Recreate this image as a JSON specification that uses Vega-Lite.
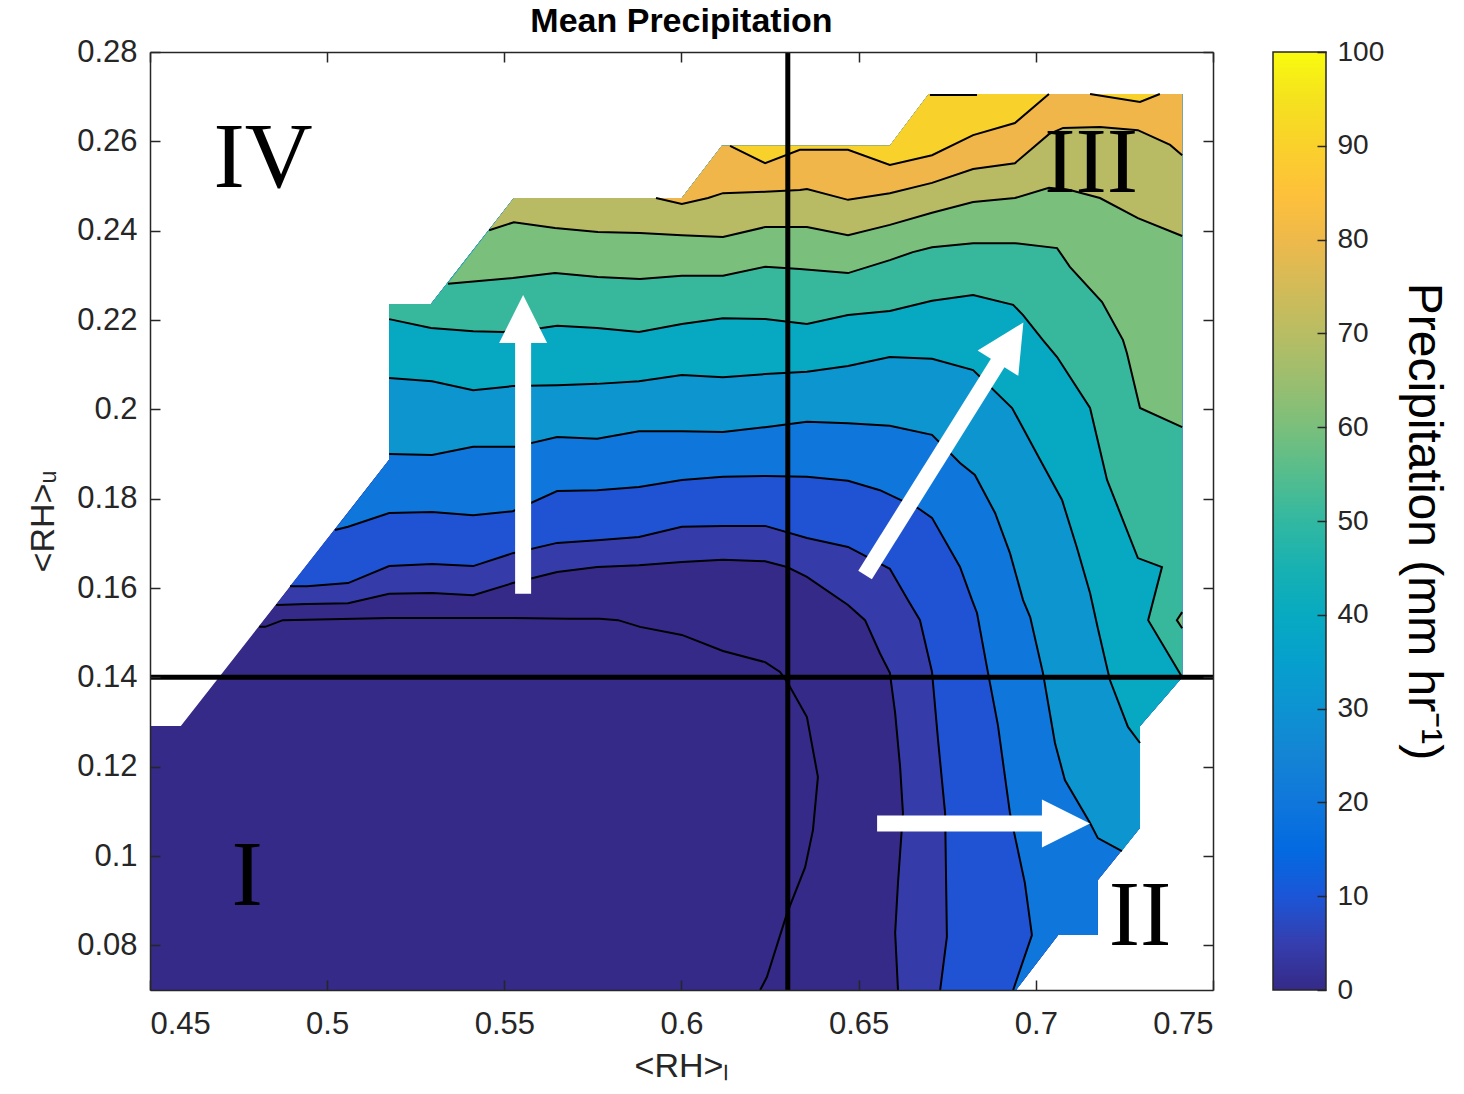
{
"$schema": "https://vega.github.io/schema/vega-lite/v6.json",
"padding": {"left": 26, "top": 5, "right": 2, "bottom": 0},
"background": "#ffffff",
"config": {"font": "Liberation Sans", "view": {"stroke": null}},
"spacing": 56,
"datasets": {
"poly": [
{"p":"P00","v":0,"i":0,"e":"b","x":0.45,"y":0.07},
{"p":"P00","v":0,"i":1,"e":"b","x":0.6944,"y":0.07},
{"p":"P00","v":0,"i":2,"e":"b","x":0.7063,"y":0.0823},
{"p":"P00","v":0,"i":3,"e":"b","x":0.7175,"y":0.0823},
{"p":"P00","v":0,"i":4,"e":"b","x":0.7175,"y":0.0946},
{"p":"P00","v":0,"i":5,"e":"b","x":0.7294,"y":0.1063},
{"p":"P00","v":0,"i":6,"e":"b","x":0.7294,"y":0.1291},
{"p":"P00","v":0,"i":7,"e":"b","x":0.7413,"y":0.14},
{"p":"P00","v":0,"i":8,"e":"b","x":0.7413,"y":0.2706},
{"p":"P00","v":0,"i":9,"e":"b","x":0.6698,"y":0.2706},
{"p":"P00","v":0,"i":10,"e":"b","x":0.6588,"y":0.259},
{"p":"P00","v":0,"i":11,"e":"b","x":0.6114,"y":0.259},
{"p":"P00","v":0,"i":12,"e":"b","x":0.6001,"y":0.2473},
{"p":"P00","v":0,"i":13,"e":"b","x":0.5527,"y":0.2473},
{"p":"P00","v":0,"i":14,"e":"b","x":0.5293,"y":0.2236},
{"p":"P00","v":0,"i":15,"e":"b","x":0.5175,"y":0.2236},
{"p":"P00","v":0,"i":16,"e":"b","x":0.5175,"y":0.1887},
{"p":"P00","v":0,"i":17,"e":"b","x":0.4587,"y":0.1291},
{"p":"P00","v":0,"i":18,"e":"b","x":0.45,"y":0.1291},

{"p":"P02","v":2,"i":0,"e":"c","x":0.4808,"y":0.1513},
{"p":"P02","v":2,"i":1,"e":"c","x":0.4825,"y":0.1513},
{"p":"P02","v":2,"i":2,"e":"c","x":0.4875,"y":0.1528},
{"p":"P02","v":2,"i":3,"e":"c","x":0.5175,"y":0.1533},
{"p":"P02","v":2,"i":4,"e":"c","x":0.5412,"y":0.1533},
{"p":"P02","v":2,"i":5,"e":"c","x":0.5524,"y":0.1533},
{"p":"P02","v":2,"i":6,"e":"c","x":0.5685,"y":0.1531},
{"p":"P02","v":2,"i":7,"e":"c","x":0.577,"y":0.1531},
{"p":"P02","v":2,"i":8,"e":"c","x":0.5821,"y":0.1528},
{"p":"P02","v":2,"i":9,"e":"c","x":0.5883,"y":0.1513},
{"p":"P02","v":2,"i":10,"e":"c","x":0.6001,"y":0.1495},
{"p":"P02","v":2,"i":11,"e":"c","x":0.6117,"y":0.1459},
{"p":"P02","v":2,"i":12,"e":"c","x":0.6236,"y":0.1434},
{"p":"P02","v":2,"i":13,"e":"c","x":0.6278,"y":0.1412},
{"p":"P02","v":2,"i":14,"e":"c","x":0.6298,"y":0.139},
{"p":"P02","v":2,"i":15,"e":"c","x":0.6354,"y":0.1311},
{"p":"P02","v":2,"i":16,"e":"c","x":0.6385,"y":0.1177},
{"p":"P02","v":2,"i":17,"e":"c","x":0.6371,"y":0.1058},
{"p":"P02","v":2,"i":18,"e":"c","x":0.6349,"y":0.0975},
{"p":"P02","v":2,"i":19,"e":"c","x":0.6298,"y":0.0872},
{"p":"P02","v":2,"i":20,"e":"c","x":0.6241,"y":0.0729},
{"p":"P02","v":2,"i":21,"e":"c","x":0.6222,"y":0.07},
{"p":"P02","v":2,"i":22,"e":"b","x":0.6944,"y":0.07},
{"p":"P02","v":2,"i":23,"e":"b","x":0.7063,"y":0.0823},
{"p":"P02","v":2,"i":24,"e":"b","x":0.7175,"y":0.0823},
{"p":"P02","v":2,"i":25,"e":"b","x":0.7175,"y":0.0946},
{"p":"P02","v":2,"i":26,"e":"b","x":0.7294,"y":0.1063},
{"p":"P02","v":2,"i":27,"e":"b","x":0.7294,"y":0.1291},
{"p":"P02","v":2,"i":28,"e":"b","x":0.7413,"y":0.14},
{"p":"P02","v":2,"i":29,"e":"b","x":0.7413,"y":0.2706},
{"p":"P02","v":2,"i":30,"e":"b","x":0.6698,"y":0.2706},
{"p":"P02","v":2,"i":31,"e":"b","x":0.6588,"y":0.259},
{"p":"P02","v":2,"i":32,"e":"b","x":0.6114,"y":0.259},
{"p":"P02","v":2,"i":33,"e":"b","x":0.6001,"y":0.2473},
{"p":"P02","v":2,"i":34,"e":"b","x":0.5527,"y":0.2473},
{"p":"P02","v":2,"i":35,"e":"b","x":0.5293,"y":0.2236},
{"p":"P02","v":2,"i":36,"e":"b","x":0.5175,"y":0.2236},
{"p":"P02","v":2,"i":37,"e":"b","x":0.5175,"y":0.1887},

{"p":"P05","v":5,"i":0,"e":"c","x":0.4856,"y":0.1562},
{"p":"P05","v":5,"i":1,"e":"c","x":0.4943,"y":0.1564},
{"p":"P05","v":5,"i":2,"e":"c","x":0.5059,"y":0.1566},
{"p":"P05","v":5,"i":3,"e":"c","x":0.5175,"y":0.1587},
{"p":"P05","v":5,"i":4,"e":"c","x":0.5296,"y":0.1589},
{"p":"P05","v":5,"i":5,"e":"c","x":0.5412,"y":0.1584},
{"p":"P05","v":5,"i":6,"e":"c","x":0.5524,"y":0.1611},
{"p":"P05","v":5,"i":7,"e":"c","x":0.5649,"y":0.1636},
{"p":"P05","v":5,"i":8,"e":"c","x":0.5762,"y":0.1647},
{"p":"P05","v":5,"i":9,"e":"c","x":0.588,"y":0.1651},
{"p":"P05","v":5,"i":10,"e":"c","x":0.6001,"y":0.1658},
{"p":"P05","v":5,"i":11,"e":"c","x":0.6117,"y":0.1663},
{"p":"P05","v":5,"i":12,"e":"c","x":0.6236,"y":0.166},
{"p":"P05","v":5,"i":13,"e":"c","x":0.6298,"y":0.1647},
{"p":"P05","v":5,"i":14,"e":"c","x":0.6354,"y":0.1625},
{"p":"P05","v":5,"i":15,"e":"c","x":0.647,"y":0.1562},
{"p":"P05","v":5,"i":16,"e":"c","x":0.6518,"y":0.1528},
{"p":"P05","v":5,"i":17,"e":"c","x":0.656,"y":0.1454},
{"p":"P05","v":5,"i":18,"e":"c","x":0.6588,"y":0.141},
{"p":"P05","v":5,"i":19,"e":"c","x":0.6603,"y":0.132},
{"p":"P05","v":5,"i":20,"e":"c","x":0.6617,"y":0.1199},
{"p":"P05","v":5,"i":21,"e":"c","x":0.6625,"y":0.1096},
{"p":"P05","v":5,"i":22,"e":"c","x":0.6611,"y":0.094},
{"p":"P05","v":5,"i":23,"e":"c","x":0.6603,"y":0.0828},
{"p":"P05","v":5,"i":24,"e":"c","x":0.6611,"y":0.07},
{"p":"P05","v":5,"i":25,"e":"b","x":0.6944,"y":0.07},
{"p":"P05","v":5,"i":26,"e":"b","x":0.7063,"y":0.0823},
{"p":"P05","v":5,"i":27,"e":"b","x":0.7175,"y":0.0823},
{"p":"P05","v":5,"i":28,"e":"b","x":0.7175,"y":0.0946},
{"p":"P05","v":5,"i":29,"e":"b","x":0.7294,"y":0.1063},
{"p":"P05","v":5,"i":30,"e":"b","x":0.7294,"y":0.1291},
{"p":"P05","v":5,"i":31,"e":"b","x":0.7413,"y":0.14},
{"p":"P05","v":5,"i":32,"e":"b","x":0.7413,"y":0.2706},
{"p":"P05","v":5,"i":33,"e":"b","x":0.6698,"y":0.2706},
{"p":"P05","v":5,"i":34,"e":"b","x":0.6588,"y":0.259},
{"p":"P05","v":5,"i":35,"e":"b","x":0.6114,"y":0.259},
{"p":"P05","v":5,"i":36,"e":"b","x":0.6001,"y":0.2473},
{"p":"P05","v":5,"i":37,"e":"b","x":0.5527,"y":0.2473},
{"p":"P05","v":5,"i":38,"e":"b","x":0.5293,"y":0.2236},
{"p":"P05","v":5,"i":39,"e":"b","x":0.5175,"y":0.2236},
{"p":"P05","v":5,"i":40,"e":"b","x":0.5175,"y":0.1887},

{"p":"P10","v":10,"i":0,"e":"c","x":0.4895,"y":0.1604},
{"p":"P10","v":10,"i":1,"e":"c","x":0.4943,"y":0.1604},
{"p":"P10","v":10,"i":2,"e":"c","x":0.5059,"y":0.1611},
{"p":"P10","v":10,"i":3,"e":"c","x":0.5175,"y":0.1649},
{"p":"P10","v":10,"i":4,"e":"c","x":0.5296,"y":0.1654},
{"p":"P10","v":10,"i":5,"e":"c","x":0.5412,"y":0.1649},
{"p":"P10","v":10,"i":6,"e":"c","x":0.5524,"y":0.1678},
{"p":"P10","v":10,"i":7,"e":"c","x":0.5649,"y":0.1701},
{"p":"P10","v":10,"i":8,"e":"c","x":0.5762,"y":0.1707},
{"p":"P10","v":10,"i":9,"e":"c","x":0.588,"y":0.1714},
{"p":"P10","v":10,"i":10,"e":"c","x":0.6001,"y":0.1737},
{"p":"P10","v":10,"i":11,"e":"c","x":0.6117,"y":0.1739},
{"p":"P10","v":10,"i":12,"e":"c","x":0.6236,"y":0.1739},
{"p":"P10","v":10,"i":13,"e":"c","x":0.6354,"y":0.1712},
{"p":"P10","v":10,"i":14,"e":"c","x":0.647,"y":0.1692},
{"p":"P10","v":10,"i":15,"e":"c","x":0.6588,"y":0.1643},
{"p":"P10","v":10,"i":16,"e":"c","x":0.6639,"y":0.1573},
{"p":"P10","v":10,"i":17,"e":"c","x":0.6673,"y":0.1528},
{"p":"P10","v":10,"i":18,"e":"c","x":0.6707,"y":0.1412},
{"p":"P10","v":10,"i":19,"e":"c","x":0.6724,"y":0.126},
{"p":"P10","v":10,"i":20,"e":"c","x":0.6744,"y":0.1096},
{"p":"P10","v":10,"i":21,"e":"c","x":0.6749,"y":0.0819},
{"p":"P10","v":10,"i":22,"e":"c","x":0.673,"y":0.07},
{"p":"P10","v":10,"i":23,"e":"b","x":0.6944,"y":0.07},
{"p":"P10","v":10,"i":24,"e":"b","x":0.7063,"y":0.0823},
{"p":"P10","v":10,"i":25,"e":"b","x":0.7175,"y":0.0823},
{"p":"P10","v":10,"i":26,"e":"b","x":0.7175,"y":0.0946},
{"p":"P10","v":10,"i":27,"e":"b","x":0.7294,"y":0.1063},
{"p":"P10","v":10,"i":28,"e":"b","x":0.7294,"y":0.1291},
{"p":"P10","v":10,"i":29,"e":"b","x":0.7413,"y":0.14},
{"p":"P10","v":10,"i":30,"e":"b","x":0.7413,"y":0.2706},
{"p":"P10","v":10,"i":31,"e":"b","x":0.6698,"y":0.2706},
{"p":"P10","v":10,"i":32,"e":"b","x":0.6588,"y":0.259},
{"p":"P10","v":10,"i":33,"e":"b","x":0.6114,"y":0.259},
{"p":"P10","v":10,"i":34,"e":"b","x":0.6001,"y":0.2473},
{"p":"P10","v":10,"i":35,"e":"b","x":0.5527,"y":0.2473},
{"p":"P10","v":10,"i":36,"e":"b","x":0.5293,"y":0.2236},
{"p":"P10","v":10,"i":37,"e":"b","x":0.5175,"y":0.2236},
{"p":"P10","v":10,"i":38,"e":"b","x":0.5175,"y":0.1887},

{"p":"P20","v":20,"i":0,"e":"c","x":0.5022,"y":0.173},
{"p":"P20","v":20,"i":1,"e":"c","x":0.5059,"y":0.1737},
{"p":"P20","v":20,"i":2,"e":"c","x":0.5175,"y":0.1768},
{"p":"P20","v":20,"i":3,"e":"c","x":0.5296,"y":0.177},
{"p":"P20","v":20,"i":4,"e":"c","x":0.5412,"y":0.1763},
{"p":"P20","v":20,"i":5,"e":"c","x":0.5524,"y":0.1772},
{"p":"P20","v":20,"i":6,"e":"c","x":0.5649,"y":0.1817},
{"p":"P20","v":20,"i":7,"e":"c","x":0.5762,"y":0.1819},
{"p":"P20","v":20,"i":8,"e":"c","x":0.588,"y":0.1826},
{"p":"P20","v":20,"i":9,"e":"c","x":0.6001,"y":0.1842},
{"p":"P20","v":20,"i":10,"e":"c","x":0.6117,"y":0.1849},
{"p":"P20","v":20,"i":11,"e":"c","x":0.6236,"y":0.1851},
{"p":"P20","v":20,"i":12,"e":"c","x":0.6354,"y":0.1849},
{"p":"P20","v":20,"i":13,"e":"c","x":0.647,"y":0.184},
{"p":"P20","v":20,"i":14,"e":"c","x":0.656,"y":0.1819},
{"p":"P20","v":20,"i":15,"e":"c","x":0.6667,"y":0.1779},
{"p":"P20","v":20,"i":16,"e":"c","x":0.6707,"y":0.1757},
{"p":"P20","v":20,"i":17,"e":"c","x":0.6786,"y":0.1647},
{"p":"P20","v":20,"i":18,"e":"c","x":0.682,"y":0.1573},
{"p":"P20","v":20,"i":19,"e":"c","x":0.6834,"y":0.1544},
{"p":"P20","v":20,"i":20,"e":"c","x":0.6862,"y":0.1423},
{"p":"P20","v":20,"i":21,"e":"c","x":0.6893,"y":0.1293},
{"p":"P20","v":20,"i":22,"e":"c","x":0.6927,"y":0.1096},
{"p":"P20","v":20,"i":23,"e":"c","x":0.6969,"y":0.094},
{"p":"P20","v":20,"i":24,"e":"c","x":0.6989,"y":0.0823},
{"p":"P20","v":20,"i":25,"e":"c","x":0.6936,"y":0.07},
{"p":"P20","v":20,"i":26,"e":"b","x":0.6944,"y":0.07},
{"p":"P20","v":20,"i":27,"e":"b","x":0.7063,"y":0.0823},
{"p":"P20","v":20,"i":28,"e":"b","x":0.7175,"y":0.0823},
{"p":"P20","v":20,"i":29,"e":"b","x":0.7175,"y":0.0946},
{"p":"P20","v":20,"i":30,"e":"b","x":0.7294,"y":0.1063},
{"p":"P20","v":20,"i":31,"e":"b","x":0.7294,"y":0.1291},
{"p":"P20","v":20,"i":32,"e":"b","x":0.7413,"y":0.14},
{"p":"P20","v":20,"i":33,"e":"b","x":0.7413,"y":0.2706},
{"p":"P20","v":20,"i":34,"e":"b","x":0.6698,"y":0.2706},
{"p":"P20","v":20,"i":35,"e":"b","x":0.6588,"y":0.259},
{"p":"P20","v":20,"i":36,"e":"b","x":0.6114,"y":0.259},
{"p":"P20","v":20,"i":37,"e":"b","x":0.6001,"y":0.2473},
{"p":"P20","v":20,"i":38,"e":"b","x":0.5527,"y":0.2473},
{"p":"P20","v":20,"i":39,"e":"b","x":0.5293,"y":0.2236},
{"p":"P20","v":20,"i":40,"e":"b","x":0.5175,"y":0.2236},
{"p":"P20","v":20,"i":41,"e":"b","x":0.5175,"y":0.1887},

{"p":"P30","v":30,"i":0,"e":"c","x":0.5175,"y":0.19},
{"p":"P30","v":30,"i":1,"e":"c","x":0.5296,"y":0.1898},
{"p":"P30","v":30,"i":2,"e":"c","x":0.5412,"y":0.1916},
{"p":"P30","v":30,"i":3,"e":"c","x":0.553,"y":0.1916},
{"p":"P30","v":30,"i":4,"e":"c","x":0.5649,"y":0.1938},
{"p":"P30","v":30,"i":5,"e":"c","x":0.5762,"y":0.1934},
{"p":"P30","v":30,"i":6,"e":"c","x":0.588,"y":0.1951},
{"p":"P30","v":30,"i":7,"e":"c","x":0.6001,"y":0.1951},
{"p":"P30","v":30,"i":8,"e":"c","x":0.6117,"y":0.1949},
{"p":"P30","v":30,"i":9,"e":"c","x":0.6236,"y":0.196},
{"p":"P30","v":30,"i":10,"e":"c","x":0.6354,"y":0.1972},
{"p":"P30","v":30,"i":11,"e":"c","x":0.647,"y":0.1969},
{"p":"P30","v":30,"i":12,"e":"c","x":0.6588,"y":0.1963},
{"p":"P30","v":30,"i":13,"e":"c","x":0.6707,"y":0.1943},
{"p":"P30","v":30,"i":14,"e":"c","x":0.6786,"y":0.188},
{"p":"P30","v":30,"i":15,"e":"c","x":0.6828,"y":0.1853},
{"p":"P30","v":30,"i":16,"e":"c","x":0.6885,"y":0.1768},
{"p":"P30","v":30,"i":17,"e":"c","x":0.6927,"y":0.1678},
{"p":"P30","v":30,"i":18,"e":"c","x":0.6964,"y":0.1573},
{"p":"P30","v":30,"i":19,"e":"c","x":0.6984,"y":0.1535},
{"p":"P30","v":30,"i":20,"e":"c","x":0.702,"y":0.141},
{"p":"P30","v":30,"i":21,"e":"c","x":0.7054,"y":0.1253},
{"p":"P30","v":30,"i":22,"e":"c","x":0.7082,"y":0.117},
{"p":"P30","v":30,"i":23,"e":"c","x":0.7153,"y":0.1074},
{"p":"P30","v":30,"i":24,"e":"c","x":0.7175,"y":0.104},
{"p":"P30","v":30,"i":25,"e":"c","x":0.7243,"y":0.1011},
{"p":"P30","v":30,"i":26,"e":"b","x":0.7294,"y":0.1063},
{"p":"P30","v":30,"i":27,"e":"b","x":0.7294,"y":0.1291},
{"p":"P30","v":30,"i":28,"e":"b","x":0.7413,"y":0.14},
{"p":"P30","v":30,"i":29,"e":"b","x":0.7413,"y":0.2706},
{"p":"P30","v":30,"i":30,"e":"b","x":0.6698,"y":0.2706},
{"p":"P30","v":30,"i":31,"e":"b","x":0.6588,"y":0.259},
{"p":"P30","v":30,"i":32,"e":"b","x":0.6114,"y":0.259},
{"p":"P30","v":30,"i":33,"e":"b","x":0.6001,"y":0.2473},
{"p":"P30","v":30,"i":34,"e":"b","x":0.5527,"y":0.2473},
{"p":"P30","v":30,"i":35,"e":"b","x":0.5293,"y":0.2236},
{"p":"P30","v":30,"i":36,"e":"b","x":0.5175,"y":0.2236},

{"p":"P40","v":40,"i":0,"e":"c","x":0.5175,"y":0.207},
{"p":"P40","v":40,"i":1,"e":"c","x":0.5296,"y":0.2063},
{"p":"P40","v":40,"i":2,"e":"c","x":0.5412,"y":0.2043},
{"p":"P40","v":40,"i":3,"e":"c","x":0.5524,"y":0.2052},
{"p":"P40","v":40,"i":4,"e":"c","x":0.5649,"y":0.2054},
{"p":"P40","v":40,"i":5,"e":"c","x":0.5762,"y":0.2057},
{"p":"P40","v":40,"i":6,"e":"c","x":0.588,"y":0.2063},
{"p":"P40","v":40,"i":7,"e":"c","x":0.6001,"y":0.2077},
{"p":"P40","v":40,"i":8,"e":"c","x":0.6117,"y":0.2072},
{"p":"P40","v":40,"i":9,"e":"c","x":0.6236,"y":0.2079},
{"p":"P40","v":40,"i":10,"e":"c","x":0.6354,"y":0.2084},
{"p":"P40","v":40,"i":11,"e":"c","x":0.647,"y":0.2097},
{"p":"P40","v":40,"i":12,"e":"c","x":0.6588,"y":0.2117},
{"p":"P40","v":40,"i":13,"e":"c","x":0.6707,"y":0.2113},
{"p":"P40","v":40,"i":14,"e":"c","x":0.6823,"y":0.2088},
{"p":"P40","v":40,"i":15,"e":"c","x":0.6933,"y":0.2003},
{"p":"P40","v":40,"i":16,"e":"c","x":0.7012,"y":0.1887},
{"p":"P40","v":40,"i":17,"e":"c","x":0.7074,"y":0.1797},
{"p":"P40","v":40,"i":18,"e":"c","x":0.7116,"y":0.169},
{"p":"P40","v":40,"i":19,"e":"c","x":0.7153,"y":0.1589},
{"p":"P40","v":40,"i":20,"e":"c","x":0.7175,"y":0.151},
{"p":"P40","v":40,"i":21,"e":"c","x":0.7209,"y":0.1394},
{"p":"P40","v":40,"i":22,"e":"c","x":0.726,"y":0.1289},
{"p":"P40","v":40,"i":23,"e":"c","x":0.7294,"y":0.1253},
{"p":"P40","v":40,"i":24,"e":"b","x":0.7294,"y":0.1291},
{"p":"P40","v":40,"i":25,"e":"b","x":0.7413,"y":0.14},
{"p":"P40","v":40,"i":26,"e":"b","x":0.7413,"y":0.2706},
{"p":"P40","v":40,"i":27,"e":"b","x":0.6698,"y":0.2706},
{"p":"P40","v":40,"i":28,"e":"b","x":0.6588,"y":0.259},
{"p":"P40","v":40,"i":29,"e":"b","x":0.6114,"y":0.259},
{"p":"P40","v":40,"i":30,"e":"b","x":0.6001,"y":0.2473},
{"p":"P40","v":40,"i":31,"e":"b","x":0.5527,"y":0.2473},
{"p":"P40","v":40,"i":32,"e":"b","x":0.5293,"y":0.2236},
{"p":"P40","v":40,"i":33,"e":"b","x":0.5175,"y":0.2236},

{"p":"P50","v":50,"i":0,"e":"c","x":0.5175,"y":0.2202},
{"p":"P50","v":50,"i":1,"e":"c","x":0.5293,"y":0.2182},
{"p":"P50","v":50,"i":2,"e":"c","x":0.5412,"y":0.2175},
{"p":"P50","v":50,"i":3,"e":"c","x":0.5496,"y":0.2173},
{"p":"P50","v":50,"i":4,"e":"c","x":0.5606,"y":0.2182},
{"p":"P50","v":50,"i":5,"e":"c","x":0.5649,"y":0.2187},
{"p":"P50","v":50,"i":6,"e":"c","x":0.5762,"y":0.2182},
{"p":"P50","v":50,"i":7,"e":"c","x":0.588,"y":0.2173},
{"p":"P50","v":50,"i":8,"e":"c","x":0.6001,"y":0.2191},
{"p":"P50","v":50,"i":9,"e":"c","x":0.6117,"y":0.2204},
{"p":"P50","v":50,"i":10,"e":"c","x":0.6236,"y":0.2202},
{"p":"P50","v":50,"i":11,"e":"c","x":0.6354,"y":0.2191},
{"p":"P50","v":50,"i":12,"e":"c","x":0.647,"y":0.2211},
{"p":"P50","v":50,"i":13,"e":"c","x":0.6588,"y":0.222},
{"p":"P50","v":50,"i":14,"e":"c","x":0.6707,"y":0.2243},
{"p":"P50","v":50,"i":15,"e":"c","x":0.6823,"y":0.2256},
{"p":"P50","v":50,"i":16,"e":"c","x":0.6936,"y":0.2234},
{"p":"P50","v":50,"i":17,"e":"c","x":0.6964,"y":0.2211},
{"p":"P50","v":50,"i":18,"e":"c","x":0.702,"y":0.2155},
{"p":"P50","v":50,"i":19,"e":"c","x":0.706,"y":0.2117},
{"p":"P50","v":50,"i":20,"e":"c","x":0.7153,"y":0.2003},
{"p":"P50","v":50,"i":21,"e":"c","x":0.7201,"y":0.1842},
{"p":"P50","v":50,"i":22,"e":"c","x":0.7288,"y":0.1667},
{"p":"P50","v":50,"i":23,"e":"c","x":0.7356,"y":0.1647},
{"p":"P50","v":50,"i":24,"e":"c","x":0.7317,"y":0.1528},
{"p":"P50","v":50,"i":25,"e":"c","x":0.7413,"y":0.14},
{"p":"P50","v":50,"i":26,"e":"b","x":0.7413,"y":0.2706},
{"p":"P50","v":50,"i":27,"e":"b","x":0.6698,"y":0.2706},
{"p":"P50","v":50,"i":28,"e":"b","x":0.6588,"y":0.259},
{"p":"P50","v":50,"i":29,"e":"b","x":0.6114,"y":0.259},
{"p":"P50","v":50,"i":30,"e":"b","x":0.6001,"y":0.2473},
{"p":"P50","v":50,"i":31,"e":"b","x":0.5527,"y":0.2473},
{"p":"P50","v":50,"i":32,"e":"b","x":0.5293,"y":0.2236},
{"p":"P50","v":50,"i":33,"e":"b","x":0.5175,"y":0.2236},

{"p":"P60","v":60,"i":0,"e":"c","x":0.5341,"y":0.2281},
{"p":"P60","v":60,"i":1,"e":"c","x":0.5524,"y":0.2294},
{"p":"P60","v":60,"i":2,"e":"c","x":0.5643,"y":0.2305},
{"p":"P60","v":60,"i":3,"e":"c","x":0.5764,"y":0.2296},
{"p":"P60","v":60,"i":4,"e":"c","x":0.5883,"y":0.2292},
{"p":"P60","v":60,"i":5,"e":"c","x":0.6001,"y":0.2299},
{"p":"P60","v":60,"i":6,"e":"c","x":0.6117,"y":0.2299},
{"p":"P60","v":60,"i":7,"e":"c","x":0.6236,"y":0.2319},
{"p":"P60","v":60,"i":8,"e":"c","x":0.6334,"y":0.2314},
{"p":"P60","v":60,"i":9,"e":"c","x":0.647,"y":0.2305},
{"p":"P60","v":60,"i":10,"e":"c","x":0.6588,"y":0.2334},
{"p":"P60","v":60,"i":11,"e":"c","x":0.6653,"y":0.2352},
{"p":"P60","v":60,"i":12,"e":"c","x":0.6707,"y":0.2363},
{"p":"P60","v":60,"i":13,"e":"c","x":0.6823,"y":0.2372},
{"p":"P60","v":60,"i":14,"e":"c","x":0.6941,"y":0.2372},
{"p":"P60","v":60,"i":15,"e":"c","x":0.706,"y":0.2361},
{"p":"P60","v":60,"i":16,"e":"c","x":0.7096,"y":0.2319},
{"p":"P60","v":60,"i":17,"e":"c","x":0.7187,"y":0.224},
{"p":"P60","v":60,"i":18,"e":"c","x":0.7246,"y":0.2155},
{"p":"P60","v":60,"i":19,"e":"c","x":0.7257,"y":0.2126},
{"p":"P60","v":60,"i":20,"e":"c","x":0.7294,"y":0.2003},
{"p":"P60","v":60,"i":21,"e":"c","x":0.7413,"y":0.196},
{"p":"P60","v":60,"i":22,"e":"b","x":0.7413,"y":0.2706},
{"p":"P60","v":60,"i":23,"e":"b","x":0.6698,"y":0.2706},
{"p":"P60","v":60,"i":24,"e":"b","x":0.6588,"y":0.259},
{"p":"P60","v":60,"i":25,"e":"b","x":0.6114,"y":0.259},
{"p":"P60","v":60,"i":26,"e":"b","x":0.6001,"y":0.2473},
{"p":"P60","v":60,"i":27,"e":"b","x":0.5527,"y":0.2473},

{"p":"P61","v":60,"i":0,"e":"c","x":0.7413,"y":0.1546},
{"p":"P61","v":60,"i":1,"e":"c","x":0.7398,"y":0.1528},
{"p":"P61","v":60,"i":2,"e":"c","x":0.7413,"y":0.151},

{"p":"P70","v":70,"i":0,"e":"c","x":0.5457,"y":0.2401},
{"p":"P70","v":70,"i":1,"e":"c","x":0.5527,"y":0.2419},
{"p":"P70","v":70,"i":2,"e":"c","x":0.5643,"y":0.2406},
{"p":"P70","v":70,"i":3,"e":"c","x":0.5764,"y":0.2397},
{"p":"P70","v":70,"i":4,"e":"c","x":0.5883,"y":0.2395},
{"p":"P70","v":70,"i":5,"e":"c","x":0.6001,"y":0.239},
{"p":"P70","v":70,"i":6,"e":"c","x":0.6117,"y":0.2386},
{"p":"P70","v":70,"i":7,"e":"c","x":0.6236,"y":0.2408},
{"p":"P70","v":70,"i":8,"e":"c","x":0.6354,"y":0.2408},
{"p":"P70","v":70,"i":9,"e":"c","x":0.647,"y":0.239},
{"p":"P70","v":70,"i":10,"e":"c","x":0.6588,"y":0.2413},
{"p":"P70","v":70,"i":11,"e":"c","x":0.6707,"y":0.244},
{"p":"P70","v":70,"i":12,"e":"c","x":0.6823,"y":0.2464},
{"p":"P70","v":70,"i":13,"e":"c","x":0.6941,"y":0.2473},
{"p":"P70","v":70,"i":14,"e":"c","x":0.7037,"y":0.2496},
{"p":"P70","v":70,"i":15,"e":"c","x":0.7096,"y":0.2491},
{"p":"P70","v":70,"i":16,"e":"c","x":0.7181,"y":0.2473},
{"p":"P70","v":70,"i":17,"e":"c","x":0.7288,"y":0.2428},
{"p":"P70","v":70,"i":18,"e":"c","x":0.7413,"y":0.2388},
{"p":"P70","v":70,"i":19,"e":"b","x":0.7413,"y":0.2706},
{"p":"P70","v":70,"i":20,"e":"b","x":0.6698,"y":0.2706},
{"p":"P70","v":70,"i":21,"e":"b","x":0.6588,"y":0.259},
{"p":"P70","v":70,"i":22,"e":"b","x":0.6114,"y":0.259},
{"p":"P70","v":70,"i":23,"e":"b","x":0.6001,"y":0.2473},
{"p":"P70","v":70,"i":24,"e":"b","x":0.5527,"y":0.2473},

{"p":"P80","v":80,"i":0,"e":"c","x":0.5928,"y":0.2473},
{"p":"P80","v":80,"i":1,"e":"c","x":0.6001,"y":0.246},
{"p":"P80","v":80,"i":2,"e":"c","x":0.6075,"y":0.2473},
{"p":"P80","v":80,"i":3,"e":"c","x":0.6117,"y":0.2484},
{"p":"P80","v":80,"i":4,"e":"c","x":0.6236,"y":0.2487},
{"p":"P80","v":80,"i":5,"e":"c","x":0.6334,"y":0.2491},
{"p":"P80","v":80,"i":6,"e":"c","x":0.6354,"y":0.2493},
{"p":"P80","v":80,"i":7,"e":"c","x":0.647,"y":0.2469},
{"p":"P80","v":80,"i":8,"e":"c","x":0.6588,"y":0.2484},
{"p":"P80","v":80,"i":9,"e":"c","x":0.6707,"y":0.2507},
{"p":"P80","v":80,"i":10,"e":"c","x":0.6823,"y":0.2538},
{"p":"P80","v":80,"i":11,"e":"c","x":0.6941,"y":0.2551},
{"p":"P80","v":80,"i":12,"e":"c","x":0.7037,"y":0.2616},
{"p":"P80","v":80,"i":13,"e":"c","x":0.7077,"y":0.263},
{"p":"P80","v":80,"i":14,"e":"c","x":0.7181,"y":0.2632},
{"p":"P80","v":80,"i":15,"e":"c","x":0.7288,"y":0.2625},
{"p":"P80","v":80,"i":16,"e":"c","x":0.7379,"y":0.2592},
{"p":"P80","v":80,"i":17,"e":"c","x":0.7413,"y":0.2569},
{"p":"P80","v":80,"i":18,"e":"b","x":0.7413,"y":0.2706},
{"p":"P80","v":80,"i":19,"e":"b","x":0.6698,"y":0.2706},
{"p":"P80","v":80,"i":20,"e":"b","x":0.6588,"y":0.259},
{"p":"P80","v":80,"i":21,"e":"b","x":0.6114,"y":0.259},
{"p":"P80","v":80,"i":22,"e":"b","x":0.6001,"y":0.2473},

{"p":"P90","v":90,"i":0,"e":"c","x":0.6137,"y":0.259},
{"p":"P90","v":90,"i":1,"e":"c","x":0.6236,"y":0.2551},
{"p":"P90","v":90,"i":2,"e":"c","x":0.6334,"y":0.2581},
{"p":"P90","v":90,"i":3,"e":"c","x":0.647,"y":0.2581},
{"p":"P90","v":90,"i":4,"e":"c","x":0.6588,"y":0.2547},
{"p":"P90","v":90,"i":5,"e":"c","x":0.6707,"y":0.2569},
{"p":"P90","v":90,"i":6,"e":"c","x":0.6823,"y":0.2614},
{"p":"P90","v":90,"i":7,"e":"c","x":0.6941,"y":0.2641},
{"p":"P90","v":90,"i":8,"e":"c","x":0.7037,"y":0.2706},
{"p":"P90","v":90,"i":9,"e":"b","x":0.6698,"y":0.2706},
{"p":"P90","v":90,"i":10,"e":"b","x":0.6588,"y":0.259},

{"p":"P91","v":90,"i":0,"e":"c","x":0.6701,"y":0.2704},
{"p":"P91","v":90,"i":1,"e":"c","x":0.6834,"y":0.2704},

{"p":"P92","v":90,"i":0,"e":"c","x":0.7153,"y":0.2706},
{"p":"P92","v":90,"i":1,"e":"c","x":0.7294,"y":0.2688},
{"p":"P92","v":90,"i":2,"e":"c","x":0.735,"y":0.2706}
],
"notes": [
{"t":"IV","x":0.4819,"y":0.2498},
{"t":"III","x":0.7156,"y":0.2487},
{"t":"I","x":0.4774,"y":0.089},
{"t":"II","x":0.7294,"y":0.0801}
],
"shafts": [
{"a":1,"x":0.5553,"y":0.1587,"x2":0.5553,"y2":0.216},
{"a":2,"x":0.6518,"y":0.1629,"x2":0.6907,"y2":0.2122},
{"a":3,"x":0.6552,"y":0.1073,"x2":0.7029,"y2":0.1073}
],
"heads": [
{"a":1,"x":0.5553,"y":0.2202},
{"a":2,"x":0.6929,"y":0.2149},
{"a":3,"x":0.7085,"y":0.1073}
],
"vline": [{"x":0.63}],
"hline": [{"y":0.14}],
"cbar": [{"lo":0,"hi":100}]
},
"hconcat": [
{
"width": 1063,
"height": 938,
"title": {"text": "Mean Precipitation", "fontSize": 34, "fontWeight": "bold", "color": "#000000", "font": "Liberation Sans", "frame": "group", "anchor": "middle", "offset": -3},
"layer": [
{
"data": {"name": "poly"},
"mark": {"type": "line", "strokeWidth": 0, "strokeOpacity": 0, "clip": true},
"encoding": {
"x": {"field": "x", "type": "quantitative", "scale": {"domain": [0.45, 0.75], "nice": false, "zero": false},
 "axis": {"orient": "bottom", "values": [0.45, 0.5, 0.55, 0.6, 0.65, 0.7, 0.75], "format": "~g", "title": "<RH>\u2097", "grid": false,
  "tickSize": -10, "tickWidth": 1.5, "tickColor": "#262626", "domain": true, "domainColor": "#262626", "domainWidth": 1.5,
  "labelPadding": 29, "labelFontSize": 31, "labelColor": "#262626", "labelFont": "Liberation Sans",
  "titleFontSize": 34, "titleFontWeight": "normal", "titleColor": "#262626", "titleFont": "Liberation Sans", "titlePadding": 10, "zindex": 1}},
"y": {"field": "y", "type": "quantitative", "scale": {"domain": [0.07, 0.28], "nice": false, "zero": false},
 "axis": {"orient": "left", "values": [0.08, 0.1, 0.12, 0.14, 0.16, 0.18, 0.2, 0.22, 0.24, 0.26, 0.28], "format": "~g", "title": "<RH>\u1d64", "grid": false,
  "tickSize": -10, "tickWidth": 1.5, "tickColor": "#262626", "domain": true, "domainColor": "#262626", "domainWidth": 1.5,
  "labelPadding": 23, "labelFontSize": 31, "labelColor": "#262626", "labelFont": "Liberation Sans",
  "titleFontSize": 34, "titleFontWeight": "normal", "titleColor": "#262626", "titleFont": "Liberation Sans", "titlePadding": 16, "zindex": 1}},
"fill": {"field": "v", "type": "ordinal", "legend": null,
 "scale": {"domain": [0, 2, 5, 10, 20, 30, 40, 50, 60, 70, 80, 90],
  "range": ["#352a87", "#352a87", "#353caa", "#2053d4", "#0f77dc", "#0d95d0", "#07a9c2", "#37b89d", "#7abf7c", "#b8bb64", "#f0b649", "#f8d12b"]}},
"detail": {"field": "p", "type": "nominal"},
"order": {"field": "i", "type": "quantitative"}
}
},
{
"data": {"name": "poly"},
"transform": [{"filter": "datum.e == 'c'"}],
"mark": {"type": "line", "stroke": "#000000", "strokeWidth": 2, "clip": true},
"encoding": {
"x": {"field": "x", "type": "quantitative", "axis": null},
"y": {"field": "y", "type": "quantitative", "axis": null},
"detail": {"field": "p", "type": "nominal"},
"order": {"field": "i", "type": "quantitative"}
}
},
{
"data": {"name": "vline"},
"mark": {"type": "rule", "stroke": "#000000", "strokeWidth": 5},
"encoding": {
"x": {"field": "x", "type": "quantitative",
 "axis": {"orient": "top", "values": [0.45, 0.5, 0.55, 0.6, 0.65, 0.7, 0.75], "labels": false, "title": null, "grid": false,
  "tickSize": -10, "tickWidth": 1.5, "tickColor": "#262626", "domain": true, "domainColor": "#262626", "domainWidth": 1.5, "zindex": 1}}
}
},
{
"data": {"name": "hline"},
"mark": {"type": "rule", "stroke": "#000000", "strokeWidth": 5},
"encoding": {
"y": {"field": "y", "type": "quantitative",
 "axis": {"orient": "right", "values": [0.08, 0.1, 0.12, 0.14, 0.16, 0.18, 0.2, 0.22, 0.24, 0.26, 0.28], "labels": false, "title": null, "grid": false,
  "tickSize": -10, "tickWidth": 1.5, "tickColor": "#262626", "domain": true, "domainColor": "#262626", "domainWidth": 1.5, "zindex": 1}}
}
},
{
"data": {"name": "shafts"},
"mark": {"type": "rule", "stroke": "#ffffff", "strokeWidth": 16, "strokeCap": "butt"},
"encoding": {
"x": {"field": "x", "type": "quantitative", "axis": null},
"y": {"field": "y", "type": "quantitative", "axis": null},
"x2": {"field": "x2"},
"y2": {"field": "y2"}
}
},
{
"data": {"name": "heads"},
"transform": [{"filter": "datum.a == 1"}],
"mark": {"type": "point", "shape": "M0,-1L1,1L-1,1Z", "size": 2304, "filled": true, "fill": "#ffffff", "opacity": 1, "strokeWidth": 0},
"encoding": {
"x": {"field": "x", "type": "quantitative", "axis": null},
"y": {"field": "y", "type": "quantitative", "axis": null}
}
},
{
"data": {"name": "heads"},
"transform": [{"filter": "datum.a == 2"}],
"mark": {"type": "point", "shape": "M0,-1L1,1L-1,1Z", "size": 2304, "angle": 32, "filled": true, "fill": "#ffffff", "opacity": 1, "strokeWidth": 0},
"encoding": {
"x": {"field": "x", "type": "quantitative", "axis": null},
"y": {"field": "y", "type": "quantitative", "axis": null}
}
},
{
"data": {"name": "heads"},
"transform": [{"filter": "datum.a == 3"}],
"mark": {"type": "point", "shape": "M1,0L-1,-1L-1,1Z", "size": 2304, "filled": true, "fill": "#ffffff", "opacity": 1, "strokeWidth": 0},
"encoding": {
"x": {"field": "x", "type": "quantitative", "axis": null},
"y": {"field": "y", "type": "quantitative", "axis": null}
}
},
{
"data": {"name": "notes"},
"mark": {"type": "text", "font": "Liberation Serif", "fontSize": 94, "baseline": "alphabetic", "align": "center", "fill": "#000000"},
"encoding": {
"x": {"field": "x", "type": "quantitative", "axis": null},
"y": {"field": "y", "type": "quantitative", "axis": null},
"text": {"field": "t", "type": "nominal"}
}
}
],
"resolve": {"axis": {"x": "independent", "y": "independent"}}
},
{
"width": 53,
"height": 938,
"data": {"name": "cbar"},
"mark": {"type": "rect", "stroke": "#262626", "strokeWidth": 1.5,
 "fill": {"gradient": "linear", "x1": 0, "y1": 1, "x2": 0, "y2": 0,
  "stops": [
   {"offset": 0, "color": "#352a87"},
   {"offset": 0.05, "color": "#353eaf"},
   {"offset": 0.1, "color": "#1b56d7"},
   {"offset": 0.15, "color": "#036ae1"},
   {"offset": 0.2, "color": "#0f77db"},
   {"offset": 0.25, "color": "#1484d4"},
   {"offset": 0.3, "color": "#0d93d2"},
   {"offset": 0.35, "color": "#06a0cd"},
   {"offset": 0.4, "color": "#07aac1"},
   {"offset": 0.45, "color": "#18b1b2"},
   {"offset": 0.5, "color": "#32b8a1"},
   {"offset": 0.55, "color": "#55bd8d"},
   {"offset": 0.6, "color": "#7abf7c"},
   {"offset": 0.65, "color": "#9bbe6f"},
   {"offset": 0.7, "color": "#b8bd63"},
   {"offset": 0.75, "color": "#d3bb58"},
   {"offset": 0.8, "color": "#eeb94b"},
   {"offset": 0.85, "color": "#fec13a"},
   {"offset": 0.9, "color": "#fad12b"},
   {"offset": 0.95, "color": "#f5e21e"},
   {"offset": 1, "color": "#f9fb0e"}
  ]}},
"encoding": {
"y": {"field": "lo", "type": "quantitative", "scale": {"domain": [0, 100], "nice": false, "zero": false},
 "axis": {"orient": "right", "values": [0, 10, 20, 30, 40, 50, 60, 70, 80, 90, 100], "grid": false, "domain": false,
  "tickSize": -9, "tickWidth": 1.5, "tickColor": "#262626",
  "labelPadding": 20, "labelFontSize": 28, "labelColor": "#262626", "labelFont": "Liberation Sans",
  "title": "Precipitation (mm hr\u207b\u00b9)", "titleFontSize": 48, "titleFontWeight": "normal", "titleColor": "#000000", "titleFont": "Liberation Sans", "titlePadding": 15, "zindex": 1}},
"y2": {"field": "hi"}
}
}
]
}
